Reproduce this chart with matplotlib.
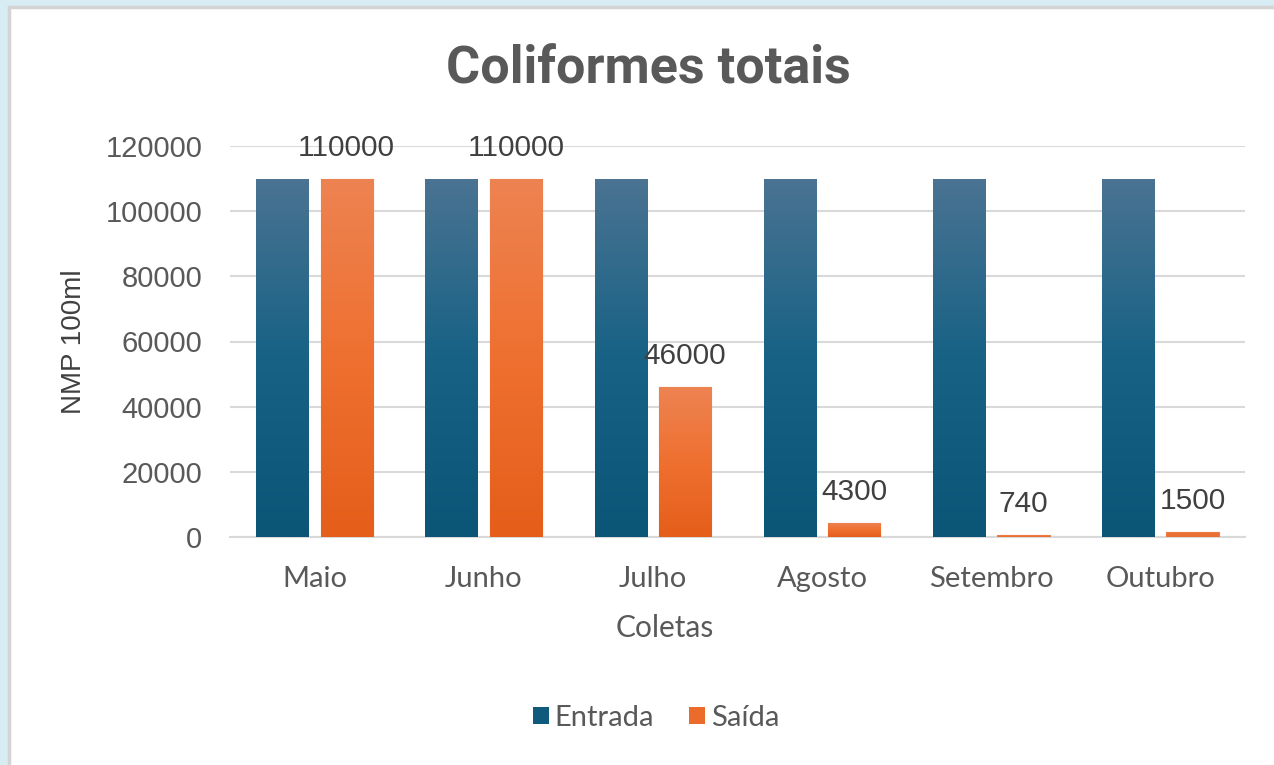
import numpy as np
import matplotlib
matplotlib.use('Agg')
import matplotlib.pyplot as plt
from matplotlib.colors import LinearSegmentedColormap
from matplotlib.patches import Rectangle

months = ['Maio', 'Junho', 'Julho', 'Agosto', 'Setembro', 'Outubro']
entrada = [110000, 110000, 110000, 110000, 110000, 110000]
saida = [110000, 110000, 46000, 4300, 740, 1500]

GRAY = '#595959'
blue_cmap = LinearSegmentedColormap.from_list('b', ['#0b5577', '#176285', '#4b7392'])
orange_cmap = LinearSegmentedColormap.from_list('o', ['#e55e1a', '#ef7030', '#ed8352'])


def gradient_bars(ax, bars, cmap):
    # overlay a vertical gradient on each bar, clipped to the bar shape
    grad = np.linspace(0, 1, 256).reshape(-1, 1)
    for b in bars:
        x, y = b.get_x(), b.get_y()
        w, h = b.get_width(), b.get_height()
        if h < 3000:
            continue  # too thin for a gradient, keep solid fill
        im = ax.imshow(grad, cmap=cmap, origin='lower', aspect='auto',
                       extent=(x, x + w, y, y + h), zorder=2.5)
        im.set_clip_path(b)


fig = plt.figure(figsize=(12.74, 7.65), dpi=100, facecolor='#d8ecf4')
fig.patches.append(Rectangle((9 / 1274, -0.01), 1.0, 1 - 6.5 / 765 + 0.01,
                             transform=fig.transFigure, facecolor='white',
                             edgecolor='#d4d4d4', linewidth=2.5, zorder=-5))

ax = fig.add_axes([230 / 1274, 1 - 537 / 765, 1015 / 1274, 391 / 765])
ax.set_facecolor('none')

x = np.arange(len(months))
w = 0.31
gap = 0.07
b1 = ax.bar(x - (w + gap) / 2, entrada, w, label='Entrada', color='#0f5a7d', zorder=2)
b2 = ax.bar(x + (w + gap) / 2, saida, w, label='Saída', color='#ea6f33',
            edgecolor='#ec7a45', linewidth=0.8, zorder=2)
gradient_bars(ax, b1, blue_cmap)
gradient_bars(ax, b2, orange_cmap)

for rect, v in zip(b2, saida):
    ax.annotate(str(v), (rect.get_x() + rect.get_width() / 2, v),
                xytext=(0, 12), textcoords='offset points', ha='center', va='bottom',
                fontsize=21.5, color='#404040', family='Liberation Sans')

ax.set_xlim(-0.5, len(months) - 0.5)
ax.set_ylim(0, 120000)
ax.set_yticks(range(0, 120001, 20000))
ax.grid(axis='y', color='#d9d9d9', linewidth=1.5, zorder=0)
ax.set_axisbelow(True)
for s in ['top', 'right', 'left']:
    ax.spines[s].set_visible(False)
ax.spines['bottom'].set_color('#d9d9d9')
ax.spines['bottom'].set_linewidth(1.5)
ax.spines['bottom'].set_zorder(1)
ax.tick_params(length=0)
ax.tick_params(axis='y', pad=20, labelsize=21, labelcolor=GRAY)
ax.tick_params(axis='x', pad=21, labelsize=21, labelcolor=GRAY)
for t in ax.get_yticklabels():
    t.set_family('Liberation Sans')
ax.set_xticks(x)
ax.set_xticklabels(months, family='Lato')

ax.set_xlabel('Coletas', fontsize=21.5, color=GRAY, family='Lato')
ax.xaxis.set_label_coords((665 - 230) / 1015, -(628 - 537) / 391)
ax.xaxis.label.set_va('center')
ax.set_ylabel('NMP 100ml', fontsize=20, color='#404040', family='Liberation Sans')
ax.yaxis.set_label_coords(-(230 - 74) / 1015, 0.5)
ax.yaxis.label.set_va('center')

fig.text(648 / 1274, 1 - 70 / 765, 'Coliformes totais', ha='center', va='center',
         fontsize=37.5, fontweight='bold', color=GRAY, family='Roboto')

fig.legend(handles=[b1, b2], labels=['Entrada', 'Saída'], loc='center',
           bbox_to_anchor=(656 / 1274, 1 - 718 / 765), ncol=2, frameon=False,
           prop={'family': 'Lato', 'size': 21}, labelcolor=GRAY,
           handlelength=0.55, handleheight=0.55, handletextpad=0.2, columnspacing=1.2)
leg = fig.legends[0]
for h, c in zip(leg.legend_handles, ['#0f5a7d', '#ea6b2a']):
    h.set_facecolor(c)
    h.set_edgecolor('none')

fig.savefig('out.png', dpi=100, facecolor=fig.get_facecolor())
